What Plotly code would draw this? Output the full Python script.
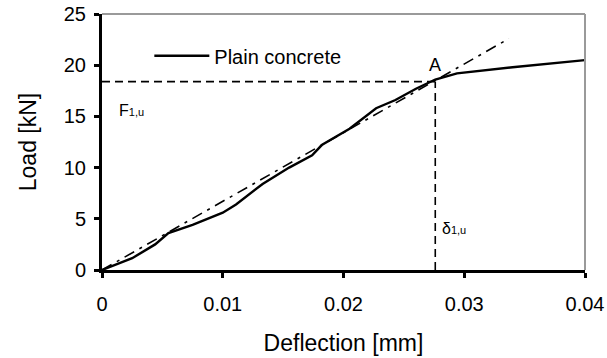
import plotly.graph_objects as go

# Measured curve: Plain concrete
defl = [0.0, 0.0008, 0.0025, 0.0044, 0.0050, 0.0055, 0.0075, 0.0100, 0.0111, 0.0133, 0.0155,
        0.0174, 0.0182, 0.0205, 0.0227, 0.0243, 0.0260, 0.0276, 0.0294, 0.0340, 0.0400]
load = [0.0, 0.35, 1.15, 2.5, 3.1, 3.6, 4.4, 5.6, 6.4, 8.4, 10.0,
        11.2, 12.2, 13.8, 15.8, 16.6, 17.7, 18.6, 19.2, 19.8, 20.5]

# Linear (elastic) reference line
lin_x = [0.0, 0.0337]
lin_y = [0.0, 22.6]

# Point A
delta_1u = 0.0276
F_1u = 18.4

x_ticks = [0, 0.01, 0.02, 0.03, 0.04]
x_tick_text = ["0", "0.01", "0.02", "0.03", "0.04"]
y_ticks = [0, 5, 10, 15, 20, 25]

FONT = "Liberation Sans, Arial, sans-serif"

fig = go.Figure()
fig.add_trace(go.Scatter(x=lin_x, y=lin_y, mode="lines", showlegend=False,
                         line=dict(color="black", width=1.6, dash="11px,6px,3px,6px")))
fig.add_trace(go.Scatter(x=[0, delta_1u], y=[F_1u, F_1u], mode="lines", showlegend=False,
                         line=dict(color="black", width=1.6, dash="8px,5px")))
fig.add_trace(go.Scatter(x=[delta_1u, delta_1u], y=[0, F_1u], mode="lines", showlegend=False,
                         line=dict(color="black", width=1.6, dash="8px,5px")))
fig.add_trace(go.Scatter(x=defl, y=load, mode="lines", name="Plain concrete",
                         line=dict(color="black", width=2.4)))

# gray top/right frame
fig.add_shape(type="line", xref="x domain", yref="y domain", x0=0, x1=1, y0=1, y1=1,
              line=dict(color="#9a9a9a", width=2))
fig.add_shape(type="line", xref="x domain", yref="y domain", x0=1, x1=1, y0=0, y1=1,
              line=dict(color="#9a9a9a", width=2))

fig.add_annotation(x=delta_1u, y=F_1u, text="A", showarrow=False, yshift=17, xshift=0,
                   font=dict(size=18, color="black", family=FONT))
fig.add_annotation(x=0, y=15.6, text="F<span style='font-size:11px'>1,u</span>",
                   showarrow=False, xanchor="left", xshift=15,
                   font=dict(size=16, color="black", family=FONT))
fig.add_annotation(x=delta_1u, y=4.1, text="δ<span style='font-size:11px'>1,u</span>",
                   showarrow=False, xanchor="left", xshift=5,
                   font=dict(size=16, color="black", family=FONT))

fig.update_layout(
    width=607, height=358,
    margin=dict(l=102, r=22, t=14, b=88, autoexpand=False),
    paper_bgcolor="white", plot_bgcolor="white",
    font=dict(family=FONT, color="black", size=20),
    legend=dict(x=0.098, y=0.837, xanchor="left", yanchor="middle", itemwidth=55,
                bgcolor="rgba(0,0,0,0)", font=dict(size=20, family=FONT)),
    xaxis=dict(range=[0, 0.04], tickvals=x_ticks, ticktext=x_tick_text, automargin=False,
               showgrid=False, zeroline=False, showline=True, linecolor="black", linewidth=3,
               ticks="outside", ticklen=5, tickwidth=3, tickcolor="black",
               tickfont=dict(size=20), ticklabelstandoff=9,
               title=dict(text="Deflection [mm]", font=dict(size=23), standoff=21)),
    yaxis=dict(range=[0, 25], tickvals=y_ticks, automargin=False,
               showgrid=False, zeroline=False, showline=True, linecolor="black", linewidth=3,
               ticks="outside", ticklen=5, tickwidth=3, tickcolor="black",
               tickfont=dict(size=20), ticklabelstandoff=4,
               title=dict(text="Load [kN]", font=dict(size=23), standoff=21)),
)

fig.write_html("out.html")
